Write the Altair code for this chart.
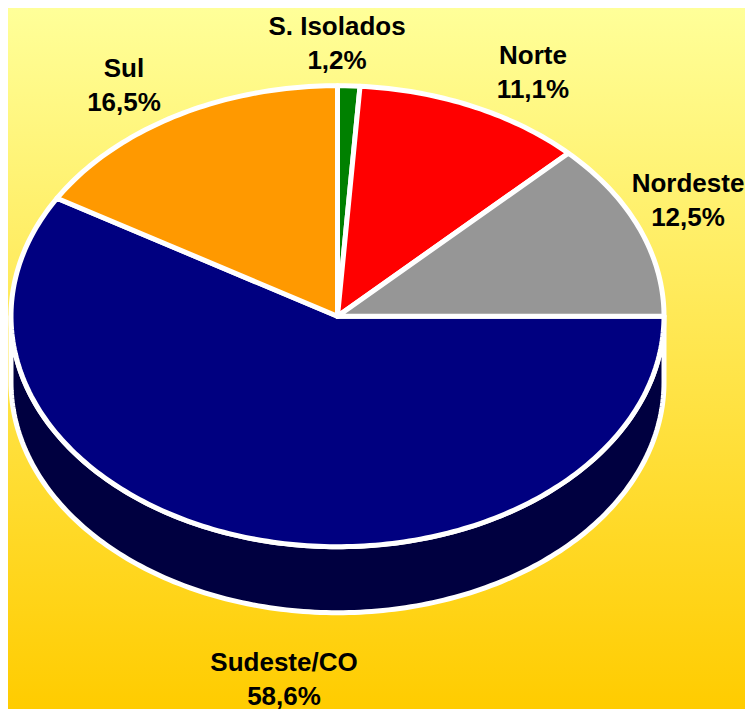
import math
import altair as alt
import pandas as pd

# Slices in drawing order: clockwise from the east point of the ellipse
names = ["Sudeste/CO", "Sul", "S. Isolados", "Norte", "Nordeste"]
share_labels = ["58,6%", "16,5%", "1,2%", "11,1%", "12,5%"]
shares = [58.55, 16.45, 1.1, 11.4, 12.5]
colors = ["#000080", "#FF9900", "#008000", "#FF0000", "#969696"]

# Layout (chart pixels = reference pixels minus the 8px page margin)
W, H = 737, 701
CX, CY, RX, RY, DEPTH = 329.5, 308.2, 326.5, 230.5, 66.0
label_px = [276, 116, 329, 525, 680]
label_py = [655, 61, 19, 48, 176]
LINE_GAP = 33.5
FONT = "Liberation Sans"
FONT_SIZE = 26

x_scale = alt.Scale(domain=[-CX / RX, (W - CX) / RX], range=[0, W], nice=False, zero=False)
y_scale = alt.Scale(domain=[-(H - CY) / RY, CY / RY], range=[H, 0], nice=False, zero=False)


def polygon(points):
    return pd.DataFrame(
        [{"i": i, "x": p[0], "y": p[1]} for i, p in enumerate(points)]
    )


def outline(data, fill):
    return (
        alt.Chart(data)
        .mark_line(
            fill=fill,
            stroke="white",
            strokeWidth=5,
            interpolate="linear-closed",
            strokeJoin="round",
        )
        .encode(
            x=alt.X("x:Q", scale=x_scale, axis=None),
            y=alt.Y("y:Q", scale=y_scale, axis=None),
            order=alt.Order("i:Q"),
        )
    )


background = (
    alt.Chart(pd.DataFrame({"a": [0]}))
    .mark_rect(
        color=alt.LinearGradient(
            gradient="linear",
            x1=0, x2=0, y1=0, y2=1,
            stops=[
                alt.GradientStop(color="#FFFF99", offset=0),
                alt.GradientStop(color="#FFCC00", offset=1),
            ],
        )
    )
    .encode(x=alt.value(0), x2=alt.value(W), y=alt.value(0), y2=alt.value(H))
)

# Side wall of the pie: lower half of the ellipse and its copy lower down
d = DEPTH / RY
angles = list(range(0, 181))
front = [(math.cos(math.radians(a)), -math.sin(math.radians(a))) for a in angles]
back = [(x, y - d) for x, y in reversed(front)]
wall = outline(polygon(front + back), "#000040")

# Top face: one closed polygon per slice
total = sum(shares)
layers = [background, wall]
start = 0.0
for share, color in zip(shares, colors):
    sweep = 360.0 * share / total
    steps = max(2, int(sweep))
    pts = [(0.0, 0.0)]
    for k in range(steps + 1):
        a = math.radians(start + sweep * k / steps)
        pts.append((math.cos(a), -math.sin(a)))
    layers.append(outline(polygon(pts), color))
    start += sweep

labels = pd.DataFrame(
    {
        "name": names,
        "share": share_labels,
        "px": label_px,
        "py": label_py,
        "py2": [p + LINE_GAP for p in label_py],
    }
)
text_base = alt.Chart(labels)
text_mark = dict(font=FONT, fontSize=FONT_SIZE, fontWeight="bold", color="black",
                 align="center", baseline="middle")
layers.append(
    text_base.mark_text(**text_mark).encode(
        x=alt.X("px:Q", scale=None), y=alt.Y("py:Q", scale=None), text="name:N"
    )
)
layers.append(
    text_base.mark_text(**text_mark).encode(
        x=alt.X("px:Q", scale=None), y=alt.Y("py2:Q", scale=None), text="share:N"
    )
)

chart = (
    alt.layer(*layers)
    .resolve_scale(x="shared", y="shared")
    .properties(width=W, height=H, padding=0, background="white",
                autosize=alt.AutoSizeParams(type="none"))
    .configure_view(stroke=None)
)

chart.save("out.html", embed_options={"renderer": "svg", "actions": False})
